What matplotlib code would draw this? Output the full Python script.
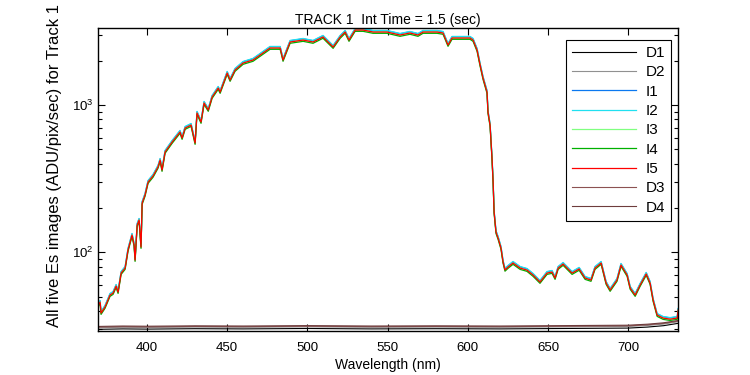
import numpy as np
import matplotlib
matplotlib.use("Agg")
import matplotlib.pyplot as plt
from matplotlib.ticker import NullFormatter, LogLocator

plt.rcParams['font.family'] = ['Liberation Sans', 'DejaVu Sans']

# Es spectrum (I5)
wl = [369.7, 370.9, 371.5, 374.0, 377.1, 379.0, 380.9, 382.1, 384.0, 386.5,
      388.3, 390.8, 392.1, 392.7, 394.0, 395.2, 396.4, 397.1, 398.9, 400.8,
      403.9, 407.0, 408.3, 409.5, 411.4, 415.8, 420.7, 422.0, 423.9, 427.6,
      430.1, 431.3, 433.8, 435.7, 438.3, 440.7, 444.5, 445.7, 450.1, 451.9,
      455.0, 460.0, 466.2, 470.6, 476.8, 483.1, 484.9, 489.3, 497.4, 503.6,
      509.8, 516.1, 520.5, 523.6, 526.0, 529.8, 534.8, 541.0, 549.7, 557.8,
      564.0, 569.0, 572.1, 580.9, 584.6, 587.7, 590.2, 595.2, 601.4, 603.3,
      605.8, 607.7, 609.5, 612.0, 612.6, 613.9, 615.1, 615.8, 616.4, 617.6,
      618.9, 620.7, 622.0, 623.2, 625.1, 628.2, 632.6, 636.9, 640.7, 645.0,
      649.4, 652.5, 654.4, 656.3, 659.4, 665.0, 669.4, 673.1, 676.8, 679.3,
      683.1, 686.2, 688.7, 693.0, 695.5, 699.3, 701.2, 704.3, 707.4, 711.2,
      713.6, 715.5, 718.0, 721.7, 726.1, 730.5, 731.1]
es = [43.9, 45.9, 38.7, 42.6, 51.3, 52.9, 59.0, 53.7, 72.3, 78.2,
      103.7, 131.0, 112.1, 88.6, 153.2, 165.7, 108.6, 216, 245, 300,
      330, 380, 423, 362, 480, 561, 656, 597, 698, 731,
      552, 883, 767, 1032, 925, 1133, 1304, 1225, 1649, 1478,
      1729, 1928, 2022, 2185, 2438, 2438, 2022, 2679, 2762, 2679,
      2897, 2476, 2897, 3131, 2762, 3229, 3229, 3131, 3131, 2987,
      3083, 2987, 3131, 3131, 3083, 2555, 2851, 2851, 2851, 2762,
      2362, 1869, 1525, 1225, 896, 731, 436, 300, 188, 137,
      125, 107, 86, 76, 79.5, 84.6, 78.2, 75.8, 70.1, 62.9,
      72.3, 73.5, 66.9, 78.2, 83.3, 72.3, 77.1, 66.9, 64.9, 78.2,
      84.6, 61.9, 55.5, 64.9, 82.0, 70.1, 57.3, 51.3, 60.0, 71.3,
      61.9, 47.4, 37.5, 35.8, 35.2, 35.8, 40.6]

# relative level of each Es image against I5 (offsets seen in the plot)
image_names = ['I1', 'I2', 'I3', 'I4', 'I5']
image_gain = [1.02, 1.025, 1.0, 0.98, 1.0]
image_colors = ['#0a78f0', '#20e0f0', '#80ff80', '#00b000', '#ff0000']

# dark frames
dark_wl = [370, 385, 400, 430, 460, 500, 540, 580, 620, 660, 700, 712, 722, 731]
dark_level = [30.8, 31.0, 30.9, 31.1, 31.0, 31.2, 31.0, 31.1, 31.0, 31.2, 31.4, 31.9, 32.6, 33.8]
dark_names = ['D1', 'D2', 'D3', 'D4']
dark_gain = [0.975, 1.0, 1.01, 1.02]
dark_colors = ['#000000', '#909090', '#8c5252', '#6e3c3c']

fig = plt.figure(figsize=(7.5, 3.75), dpi=100)
ax = fig.add_axes([0.1311, 0.1182, 0.7729, 0.8063])

wl = np.array(wl)
es = np.array(es)
dw = np.array(dark_wl)
dl = np.array(dark_level)

# legend order: D1, D2, I1..I5, D3, D4
ax.plot(dw, dl * dark_gain[0], color=dark_colors[0], lw=0.8, label=dark_names[0])
ax.plot(dw, dl * dark_gain[1], color=dark_colors[1], lw=0.8, label=dark_names[1])
for name, g, c in zip(image_names, image_gain, image_colors):
    ax.plot(wl, es * g, color=c, lw=0.9, label=name)
ax.plot(dw, dl * dark_gain[2], color=dark_colors[2], lw=0.8, label=dark_names[2])
ax.plot(dw, dl * dark_gain[3], color=dark_colors[3], lw=0.8, label=dark_names[3])

ax.set_yscale('log')
ax.set_xlim(369.8, 731.0)
ax.set_ylim(29.4, 3318)
ax.set_xticks([400, 450, 500, 550, 600, 650, 700])
ax.yaxis.set_minor_locator(LogLocator(base=10, subs=np.arange(2, 10)))
ax.yaxis.set_minor_formatter(NullFormatter())
ax.tick_params(which='both', direction='in', top=True, right=True, labelsize=9.5)
ax.tick_params(which='major', length=5, width=0.8)
ax.tick_params(which='minor', length=3, width=0.8)
ax.tick_params(axis='x', which='major', pad=8)
for s in ax.spines.values():
    s.set_linewidth(1.0)

ax.set_title('TRACK 1  Int Time = 1.5 (sec)', fontsize=10, pad=3)
ax.set_xlabel('Wavelength (nm)', fontsize=10, labelpad=3)
ax.set_ylabel('All five Es images (ADU/pix/sec) for Track 1', fontsize=12)
ax.yaxis.set_label_coords(-0.062, 0.545)

leg = ax.legend(loc='upper right', bbox_to_anchor=(0.988, 0.962), borderaxespad=0,
                fontsize=11, frameon=True, fancybox=False,
                edgecolor='black', framealpha=1, handlelength=4.2,
                labelspacing=0.35, handletextpad=0.6)
leg.get_frame().set_linewidth(0.8)

fig.savefig('out.png', dpi=100)
